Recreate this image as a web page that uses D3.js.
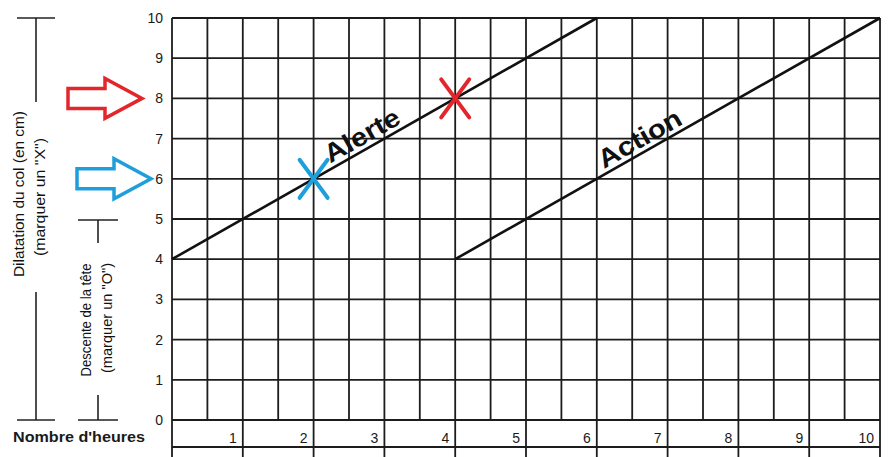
<!DOCTYPE html>
<html>
<head>
<meta charset="utf-8">
<script src="https://cdn.jsdelivr.net/npm/d3@7"></script>
<style>
  body { margin: 0; background: #fff; }
  svg { display: block; font-family: "Liberation Sans", Arial, sans-serif; }
</style>
</head>
<body>
<div id="container"><svg></svg></div>
<script>
const W = 892;
const H = 457;

// data
const hourTicks = [1, 2, 3, 4, 5, 6, 7, 8, 9, 10];
const cmTicks = [0, 1, 2, 3, 4, 5, 6, 7, 8, 9, 10];
const alertLine = [[0, 4], [6, 10]];
const actionLine = [[4, 4], [10, 10]];
const marks = [
    {hour: 2, cm: 6, color: '#1e9fdc'},
    {hour: 4, cm: 8, color: '#e3262b'}
];
const arrows = [
    {cm: 8, color: '#e3262b', left: 68},
    {cm: 6, color: '#1e9fdc', left: 77}
];

const GRID = '#1c1c1c';

const x = d3.scaleLinear().domain([0, 10]).range([172, 880]);
const y = d3.scaleLinear().domain([0, 10]).range([420, 18]);

const svg = d3.select('svg').attr('width', W).attr('height', H);

// grid
let grid = svg.append('g').attr('stroke', GRID).attr('stroke-width', 1.8);

grid.selectAll('.h')
    .data(cmTicks)
    .enter().append('line')
    .attr('x1', x(0)).attr('x2', x(10))
    .attr('y1', d => y(d)).attr('y2', d => y(d));

// half hour columns inside the chart
grid.selectAll('.v')
    .data(d3.range(0, 20.5, 1).map(d => d / 2))
    .enter().append('line')
    .attr('x1', d => x(d)).attr('x2', d => x(d))
    .attr('y1', y(10)).attr('y2', y(0));

// hour row below the chart
const rowBottom = 447;
grid.append('line')
    .attr('x1', x(0)).attr('x2', x(10))
    .attr('y1', rowBottom).attr('y2', rowBottom);
grid.selectAll('.hv')
    .data([0].concat(hourTicks))
    .enter().append('line')
    .attr('x1', d => x(d)).attr('x2', d => x(d))
    .attr('y1', y(0)).attr('y2', H);

// y labels
let yAxis = svg.append('g')
    .attr('transform', `translate(${x(0) - 9},0)`)
    .call(d3.axisLeft(y).tickValues(cmTicks).tickSize(0).tickPadding(0));
yAxis.select('.domain').remove();
yAxis.selectAll('text')
    .attr('font-size', 14)
    .attr('font-family', '"Liberation Sans", Arial, sans-serif')
    .attr('fill', '#1a1a1a');

// hour labels
svg.append('g').selectAll('text')
    .data(hourTicks)
    .enter().append('text')
    .attr('x', d => x(d) - 6)
    .attr('y', 443)
    .attr('text-anchor', 'end')
    .attr('font-size', 14)
    .attr('fill', '#1a1a1a')
    .text(d => d);

svg.append('text')
    .attr('x', 13).attr('y', 442)
    .attr('font-size', 15)
    .attr('font-weight', 'bold')
    .attr('textLength', 132)
    .attr('lengthAdjust', 'spacingAndGlyphs')
    .attr('fill', '#1a1a1a')
    .text("Nombre d'heures");

// alert / action lines
const line = d3.line().x(d => x(d[0])).y(d => y(d[1]));
[alertLine, actionLine].forEach(l => {
    svg.append('path')
        .attr('d', line(l))
        .attr('fill', 'none')
        .attr('stroke', '#111')
        .attr('stroke-width', 2.6);
});

const angle = -Math.atan2(y(0) - y(1), x(1) - x(0)) * 180 / Math.PI;
function lineLabel(txt, hour, start, len) {
    let cx = x(hour), cy = y(start[1] + (hour - start[0]));
    svg.append('text')
        .attr('transform', `translate(${cx},${cy}) rotate(${angle})`)
        .attr('y', -5)
        .attr('text-anchor', 'middle')
        .attr('font-size', 26)
        .attr('font-weight', 'bold')
        .attr('textLength', len)
        .attr('lengthAdjust', 'spacingAndGlyphs')
        .attr('fill', '#111')
        .text(txt);
}
lineLabel('Alerte', 2.78, alertLine[0], 83);
lineLabel('Action', 6.7, actionLine[0], 92);

// crosses
marks.forEach(m => {
    let g = svg.append('g')
        .attr('stroke', m.color)
        .attr('stroke-width', 4)
        .attr('stroke-linecap', 'round');
    let cx = x(m.hour), cy = y(m.cm);
    g.append('line').attr('x1', cx - 14).attr('y1', cy - 19).attr('x2', cx + 14).attr('y2', cy + 19);
    g.append('line').attr('x1', cx + 14).attr('y1', cy - 19).attr('x2', cx - 14).attr('y2', cy + 19);
});

// arrows
arrows.forEach(a => {
    let cy = y(a.cm), l = a.left, b = l + 37, t = l + 74;
    let p = d3.path();
    p.moveTo(l, cy - 10);
    p.lineTo(b, cy - 10);
    p.lineTo(b, cy - 20);
    p.lineTo(t, cy);
    p.lineTo(b, cy + 20);
    p.lineTo(b, cy + 10);
    p.lineTo(l, cy + 10);
    p.closePath();
    svg.append('path')
        .attr('d', p.toString())
        .attr('fill', 'none')
        .attr('stroke', a.color)
        .attr('stroke-width', 3.5)
        .attr('stroke-linejoin', 'miter');
});

// left brackets
let brackets = svg.append('g').attr('stroke', '#222').attr('stroke-width', 1.6);
function bracket(bx, top, topEnd, botStart, bottom, half) {
    brackets.append('line').attr('x1', bx - half).attr('x2', bx + half).attr('y1', top).attr('y2', top);
    brackets.append('line').attr('x1', bx).attr('x2', bx).attr('y1', top).attr('y2', topEnd);
    brackets.append('line').attr('x1', bx).attr('x2', bx).attr('y1', botStart).attr('y2', bottom);
    brackets.append('line').attr('x1', bx - half).attr('x2', bx + half).attr('y1', bottom).attr('y2', bottom);
}
bracket(36, y(10), 102, 292, y(0), 19);
bracket(98, 220, 243, 395, y(0), 20);

function vtext(cx, cy, txt, len) {
    svg.append('text')
        .attr('transform', `translate(${cx},${cy}) rotate(-90)`)
        .attr('text-anchor', 'middle')
        .attr('dominant-baseline', 'middle')
        .attr('font-size', 14)
        .attr('textLength', len)
        .attr('lengthAdjust', 'spacingAndGlyphs')
        .attr('fill', '#111')
        .text(txt);
}
vtext(20, 194, 'Dilatation du col (en cm)', 166);
vtext(41, 197, '(marquer un "X")', 118);
vtext(87, 320, 'Descente de la tête', 113);
vtext(108, 318, '(marquer un "O")', 110);
</script>
</body>
</html>
